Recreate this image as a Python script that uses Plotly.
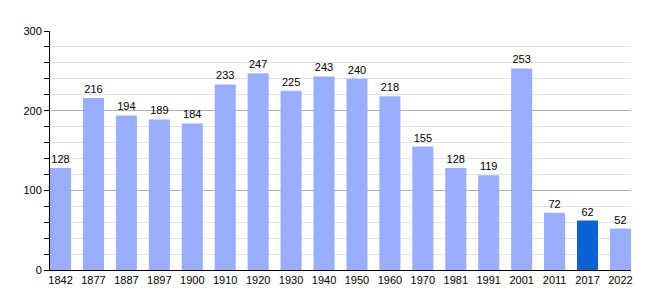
import plotly.graph_objects as go

years = ["1842", "1877", "1887", "1897", "1900", "1910", "1920", "1930", "1940",
         "1950", "1960", "1970", "1981", "1991", "2001", "2011", "2017", "2022"]
population = [128, 216, 194, 189, 184, 233, 247, 225, 243, 240, 218, 155, 128, 119, 253, 72, 62, 52]
highlight_year = "2017"

light = "#9AAEFF"
dark = "#0B62D4"
colors = [dark if y == highlight_year else light for y in years]

fig = go.Figure(go.Bar(
    x=years, y=population,
    marker=dict(color=colors, line=dict(width=0)),
    text=[str(v) for v in population],
    textposition="outside",
    textfont=dict(family="Liberation Sans", size=11, color="black"),
    cliponaxis=False,
))

fig.update_layout(
    width=660, height=300,
    margin=dict(l=50, r=29, t=31, b=30),
    plot_bgcolor="white", paper_bgcolor="white",
    bargap=0.36,
    showlegend=False,
    font=dict(family="Liberation Sans", size=11, color="black"),
    xaxis=dict(
        type="category",
        range=[-0.32, 17.32],
        showline=True, linecolor="black", linewidth=1,
        ticks="", showgrid=False,
        tickfont=dict(size=11),
    ),
    yaxis=dict(
        range=[0, 300],
        dtick=100,
        showline=True, linecolor="black", linewidth=1,
        ticks="outside", ticklen=5, tickcolor="black",
        showgrid=True, gridcolor="#B0B0B0", gridwidth=1,
        zeroline=False,
        tickfont=dict(size=11),
        minor=dict(dtick=20, showgrid=True, gridcolor="#E4E4E4",
                   ticks="outside", ticklen=5, tickcolor="black"),
    ),
)

fig.write_html("out.html")
